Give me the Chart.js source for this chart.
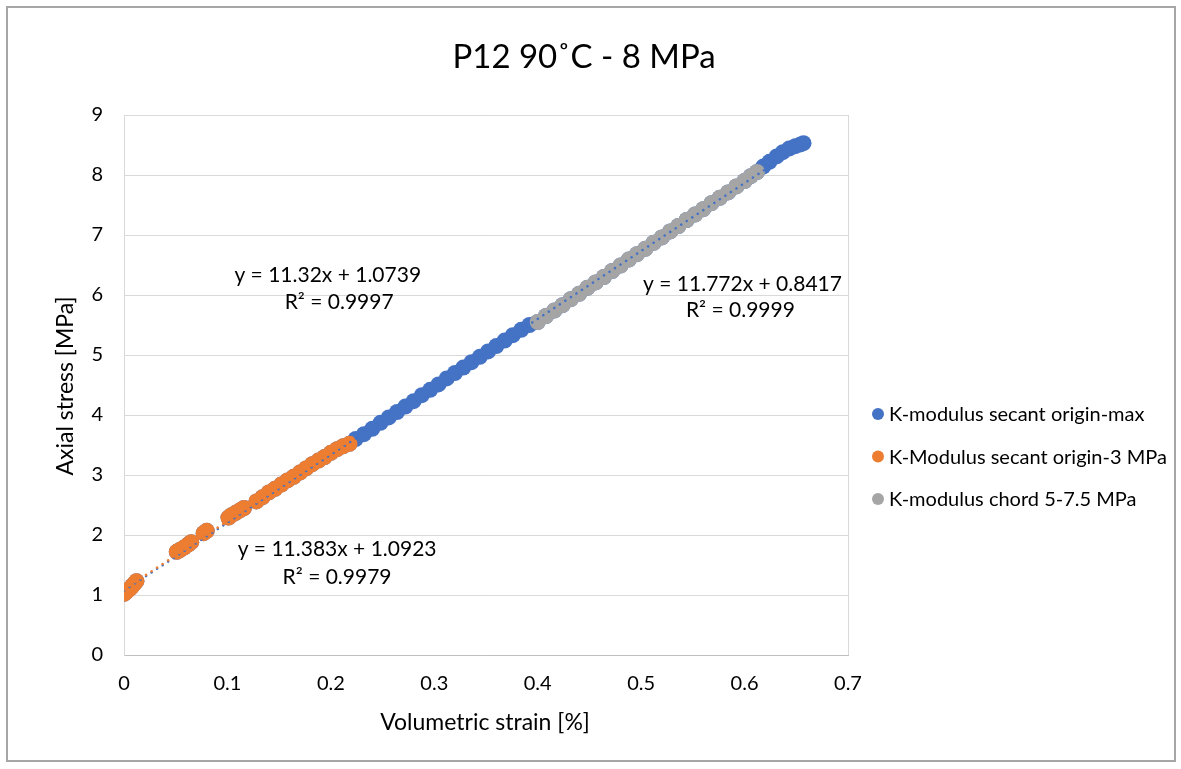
<!DOCTYPE html>
<html>
<head>
<meta charset="utf-8">
<script src="https://cdn.jsdelivr.net/npm/chart.js@4"></script>
<style>
  html, body { margin: 0; padding: 0; background: #fff; }
  #wrap { position: relative; width: 1181px; height: 769px; }
</style>
</head>
<body>
<div id="wrap"><canvas id="myChart"></canvas></div>
<script>
// volumetric strain [%] and axial stress [MPa]
const strain = [
  0.000, 0.002, 0.004, 0.006, 0.008, 0.010, 0.012,
  0.051, 0.054, 0.058, 0.062, 0.065, 0.077, 0.080,
  0.101, 0.104, 0.108, 0.112, 0.116,
  0.128, 0.134, 0.140, 0.146, 0.152, 0.158, 0.164, 0.170, 0.176, 0.182, 0.188, 0.194, 0.200, 0.206, 0.212, 0.218,
  0.224, 0.232, 0.240, 0.248, 0.256, 0.264, 0.272, 0.280, 0.288, 0.296, 0.304, 0.312, 0.320, 0.328, 0.336, 0.344,
  0.352, 0.360, 0.368, 0.376, 0.384, 0.392,
  0.400, 0.408, 0.416, 0.424, 0.432, 0.440, 0.448, 0.456, 0.464, 0.472, 0.480, 0.488, 0.496, 0.504,
  0.512, 0.520, 0.528, 0.536, 0.544, 0.552, 0.560, 0.568, 0.576, 0.584, 0.592, 0.600, 0.606, 0.612,
  0.618, 0.624, 0.631, 0.637, 0.643, 0.649, 0.654, 0.657
];
const stress = [
  1.02, 1.05, 1.08, 1.11, 1.15, 1.19, 1.23,
  1.72, 1.75, 1.79, 1.84, 1.88, 2.03, 2.07,
  2.29, 2.33, 2.37, 2.41, 2.45,
  2.56, 2.63, 2.71, 2.77, 2.84, 2.91, 2.97, 3.04, 3.11, 3.18, 3.24, 3.30, 3.37, 3.43, 3.48, 3.52,
  3.60, 3.68, 3.77, 3.87, 3.96, 4.05, 4.14, 4.23, 4.33, 4.42, 4.51, 4.61, 4.70, 4.79, 4.88, 4.97,
  5.06, 5.15, 5.24, 5.33, 5.42, 5.50,
  5.55, 5.65, 5.74, 5.83, 5.93, 6.02, 6.12, 6.21, 6.30, 6.40, 6.49, 6.59, 6.68, 6.77,
  6.87, 6.96, 7.06, 7.15, 7.25, 7.34, 7.43, 7.53, 7.62, 7.71, 7.81, 7.90, 7.98, 8.05,
  8.14, 8.22, 8.31, 8.38, 8.44, 8.48, 8.51, 8.53
];

const seriesNames = ['K-modulus secant origin-max', 'K-Modulus secant origin-3 MPa', 'K-modulus chord 5-7.5 MPa'];
const seriesColors = ['#4472C4', '#ED7D31', '#A5A5A5'];
const strainFrom = [0, 0, 0.398];
const strainTo = [0.66, 0.22, 0.614];

// linear trendlines as printed on the chart
const slope = [11.32, 11.383, 11.772];
const intercept = [1.0739, 1.0923, 0.8417];
const rSquared = ['0.9997', '0.9979', '0.9999'];
const trendFrom = [0, 0, 0.400];
const trendTo = [0.657, 0.218, 0.612];
// where the equation labels sit, in data units [x, y of first line, y of second line, x of second line]
const labelPos = [[0.197, 6.33, 5.88, 0.208], [0.206, 1.77, 1.30, 0.206], [0.598, 6.18, 5.75, 0.596]];

const xTicks = [0, 0.1, 0.2, 0.3, 0.4, 0.5, 0.6, 0.7];
const yTicks = [0, 1, 2, 3, 4, 5, 6, 7, 8, 9];

const FONT = 'Lato, "Open Sans", sans-serif';

function points(i) {
  const pts = [];
  strain.forEach((x, k) => {
    if (x >= strainFrom[i] && x <= strainTo[i]) pts.push({ x: x, y: stress[k] });
  });
  return pts;
}

const datasets = [];
seriesNames.forEach((name, i) => {
  datasets.push({
    label: name,
    data: points(i),
    backgroundColor: seriesColors[i],
    borderColor: seriesColors[i],
    pointRadius: 8,
    pointBorderWidth: 0,
    showLine: false,
    order: 10 - i
  });
});
seriesNames.forEach((name, i) => {
  datasets.push({
    label: 'trend ' + name,
    data: [
      { x: trendFrom[i], y: slope[i] * trendFrom[i] + intercept[i] },
      { x: trendTo[i], y: slope[i] * trendTo[i] + intercept[i] }
    ],
    borderColor: seriesColors[i],
    borderWidth: 2.5,
    borderDash: [0.1, 6.5],
    borderCapStyle: 'round',
    pointRadius: 0,
    showLine: true,
    order: i === 0 ? 2 : (i === 1 ? 1 : 3)
  });
});

const decor = {
  id: 'decor',
  beforeDraw(chart) {
    const ctx = chart.ctx;
    ctx.save();
    ctx.fillStyle = '#fff';
    ctx.fillRect(0, 0, chart.width, chart.height);
    ctx.strokeStyle = '#a6a6a6';
    ctx.lineWidth = 2;
    ctx.strokeRect(7, 7, 1168, 754);
    ctx.restore();
  },
  afterDraw(chart) {
    const ctx = chart.ctx;
    const a = chart.chartArea;
    const xs = chart.scales.x, ys = chart.scales.y;
    ctx.save();
    // right edge of plot area
    ctx.strokeStyle = '#d9d9d9';
    ctx.lineWidth = 1;
    ctx.beginPath();
    ctx.moveTo(Math.round(a.right) + 0.5, a.top);
    ctx.lineTo(Math.round(a.right) + 0.5, a.bottom);
    ctx.stroke();

    ctx.fillStyle = '#000';
    ctx.textAlign = 'center';
    ctx.textBaseline = 'middle';
    ctx.font = '33px ' + FONT;
    ctx.fillText('P12 90˚C - 8 MPa', 584, 57);

    ctx.font = '23px ' + FONT;
    ctx.fillText('Volumetric strain [%]', 485, 723);
    ctx.save();
    ctx.translate(66, 386);
    ctx.rotate(-Math.PI / 2);
    ctx.fillText('Axial stress [MPa]', 0, 0);
    ctx.restore();

    // trendline equations
    ctx.font = '21px ' + FONT;
    labelPos.forEach((p, i) => {
      const sign = intercept[i] >= 0 ? ' + ' : ' - ';
      ctx.fillText('y = ' + slope[i] + 'x' + sign + Math.abs(intercept[i]), xs.getPixelForValue(p[0]), ys.getPixelForValue(p[1]));
      ctx.fillText('R² = ' + rSquared[i], xs.getPixelForValue(p[3]), ys.getPixelForValue(p[2]));
    });

    // legend
    ctx.font = '20px ' + FONT;
    ctx.textAlign = 'left';
    seriesNames.forEach((name, i) => {
      const y = 414 + i * 42.5;
      ctx.fillStyle = seriesColors[i];
      ctx.beginPath();
      ctx.arc(878, y, 6, 0, Math.PI * 2);
      ctx.fill();
      ctx.fillStyle = '#000';
      ctx.fillText(name, 889, y + 1);
    });
    ctx.restore();
  }
};

const config = {
  type: 'scatter',
  data: { datasets: datasets },
  options: {
    responsive: true,
    maintainAspectRatio: false,
    animation: false,
    layout: { padding: { left: 0, top: 115, right: 333, bottom: 0 } },
    plugins: { legend: { display: false }, tooltip: { enabled: false } },
    scales: {
      x: {
        type: 'linear',
        min: 0,
        max: 0.7,
        afterFit(s) { s.height = 114; },
        afterBuildTicks(s) { s.ticks = xTicks.map(v => ({ value: v })); },
        grid: { display: false, drawTicks: false },
        border: { color: '#bfbfbf', width: 1 },
        ticks: { padding: 17, color: '#000', font: { family: FONT, size: 20 }, callback: v => String(v) }
      },
      y: {
        type: 'linear',
        min: 0,
        max: 9,
        afterFit(s) { s.width = 124; },
        afterBuildTicks(s) { s.ticks = yTicks.map(v => ({ value: v })); },
        grid: { color: '#d9d9d9', drawTicks: false },
        border: { color: '#d9d9d9', width: 1 },
        ticks: { padding: 21, color: '#000', font: { family: FONT, size: 20 } }
      }
    }
  },
  plugins: [decor]
};

const myChart = new Chart(document.getElementById('myChart'), config);
</script>
</body>
</html>
